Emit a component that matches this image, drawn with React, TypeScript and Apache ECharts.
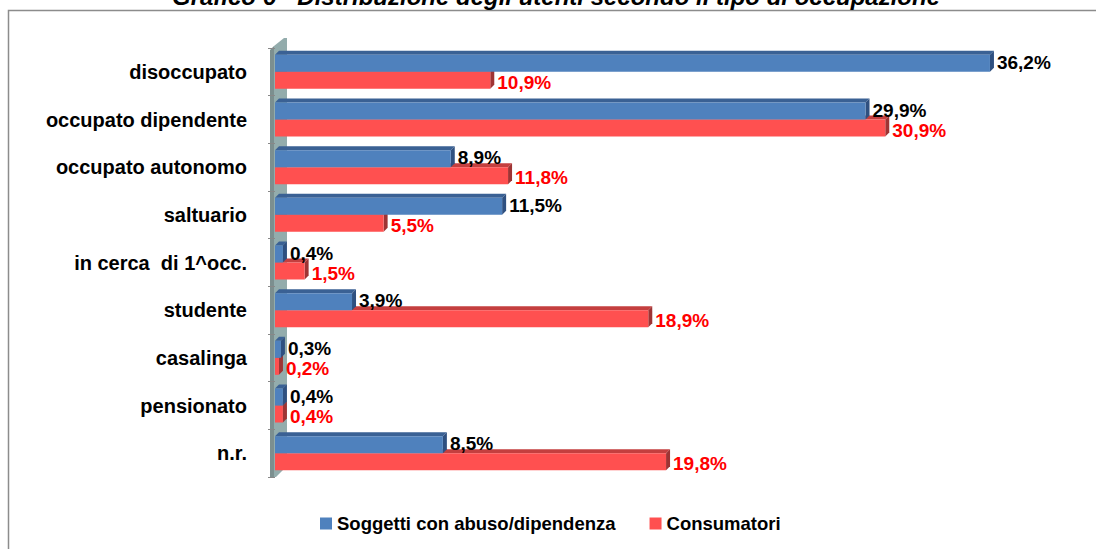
import React, { useEffect, useRef } from "react";
import * as echarts from "echarts";

const categories = [
  "disoccupato",
  "occupato dipendente",
  "occupato autonomo",
  "saltuario",
  "in cerca  di 1^occ.",
  "studente",
  "casalinga",
  "pensionato",
  "n.r.",
];
const abuso = [36.2, 29.9, 8.9, 11.5, 0.4, 3.9, 0.3, 0.4, 8.5];
const consumatori = [10.9, 30.9, 11.8, 5.5, 1.5, 18.9, 0.2, 0.4, 19.8];
const seriesNames = ["Soggetti con abuso/dipendenza", "Consumatori"];
const titleText = "Grafico 6 - Distribuzione degli utenti secondo il tipo di occupazione";

const BLUE = "#4F81BD";
const RED = "#FF5050";
const BAR_W = 17;
const DEPTH = 4;

const fmt = (v: number) => v.toFixed(1).replace(".", ",") + "%";

function faces(which: number, topColor: string, sideColor: string) {
  return (params: any, api: any) => {
    const v = api.value(0);
    const idx = api.value(1);
    const start = api.coord([0, idx]);
    const end = api.coord([v, idx]);
    const c = start[1];
    const y0 = which === 0 ? c - BAR_W : c;
    const y1 = y0 + BAR_W;
    const x0 = start[0];
    const x1 = end[0];
    return {
      type: "group",
      children: [
        {
          type: "polygon",
          shape: { points: [[x0, y0], [x1, y0], [x1 + DEPTH, y0 - DEPTH], [x0 + DEPTH, y0 - DEPTH]] },
          style: { fill: topColor },
        },
        {
          type: "polygon",
          shape: { points: [[x1, y0], [x1 + DEPTH, y0 - DEPTH], [x1 + DEPTH, y1 - DEPTH], [x1, y1]] },
          style: { fill: sideColor },
        },
      ],
    };
  };
}

export default function App() {
  const ref = useRef<HTMLDivElement>(null);
  useEffect(() => {
    document.body.style.margin = "0";
    document.documentElement.style.overflow = "hidden";
    const chart = echarts.init(ref.current!, null, { renderer: "svg" });
    const font = "'Liberation Sans', Arial, sans-serif";
    chart.setOption({
      animation: false,
      backgroundColor: "#fff",
      textStyle: { fontFamily: font },
      graphic: [
        {
          type: "polyline",
          shape: { points: [[8.5, 560], [8.5, 10.5], [1096, 10.5]] },
          style: { fill: "none", stroke: "#8c8c8c", lineWidth: 1.5 },
          z: -10,
          silent: true,
        },
        {
          type: "text",
          x: 556,
          y: 8,
          style: {
            text: titleText,
            font: "italic bold 24px " + font,
            fill: "#000",
            align: "center",
            verticalAlign: "bottom",
          },
          z: -10,
        },
        {
          type: "polygon",
          shape: { points: [[270, 50], [274, 46], [274, 477], [270, 477]] },
          style: { fill: "#7c8f8f" },
          z: -5,
          silent: true,
        },
        {
          type: "polygon",
          shape: { points: [[274, 46], [284, 38], [287, 38], [287, 466], [276, 477], [274, 477]] },
          style: { fill: "#93acac" },
          z: -5,
          silent: true,
        },
      ],
      legend: {
        bottom: 11,
        left: 315,
        itemWidth: 12,
        itemHeight: 12,
        itemGap: 34,
        icon: "rect",
        data: seriesNames,
        textStyle: { fontSize: 18.5, fontWeight: "bold", color: "#000", fontFamily: font },
      },
      grid: { left: 275, right: 31, top: 48, bottom: 72, containLabel: false },
      xAxis: {
        type: "value",
        min: 0,
        max: 40,
        show: false,
      },
      yAxis: {
        type: "category",
        data: categories,
        inverse: true,
        offset: 5,
        axisLine: { show: false },
        axisTick: { show: true, length: 7, lineStyle: { color: "#888" } },
        axisLabel: {
          margin: 23,
          fontSize: 20,
          fontWeight: "bold",
          color: "#000",
          fontFamily: font,
        },
      },
      series: [
        {
          type: "custom",
          renderItem: faces(1, "#c43f3f", "#9e3434"),
          data: consumatori.map((v, i) => [v, i]),
          encode: { x: 0, y: 1 },
          z: 1,
          silent: true,
        },
        {
          type: "custom",
          renderItem: faces(0, "#3a6194", "#2f5080"),
          data: abuso.map((v, i) => [v, i]),
          encode: { x: 0, y: 1 },
          z: 1,
          silent: true,
        },
        {
          name: seriesNames[0],
          type: "bar",
          data: abuso,
          barWidth: BAR_W,
          barGap: "0%",
          z: 3,
          itemStyle: { color: BLUE },
          label: {
            show: true,
            position: "right",
            distance: 7,
            offset: [0, -1],
            formatter: (p: any) => fmt(p.value),
            fontSize: 19,
            fontWeight: "bold",
            color: "#000",
            fontFamily: font,
          },
        },
        {
          name: seriesNames[1],
          type: "bar",
          data: consumatori,
          barWidth: BAR_W,
          barGap: "0%",
          z: 2,
          itemStyle: { color: RED },
          label: {
            show: true,
            position: "right",
            distance: 7,
            offset: [0, 2],
            formatter: (p: any) => fmt(p.value),
            fontSize: 19,
            fontWeight: "bold",
            color: "#ff0000",
            fontFamily: font,
          },
        },
      ],
    });
    return () => chart.dispose();
  }, []);
  return (
    <div
      ref={ref}
      style={{ position: "absolute", left: 0, top: 0, width: 1096, height: 549, overflow: "hidden" }}
    />
  );
}
